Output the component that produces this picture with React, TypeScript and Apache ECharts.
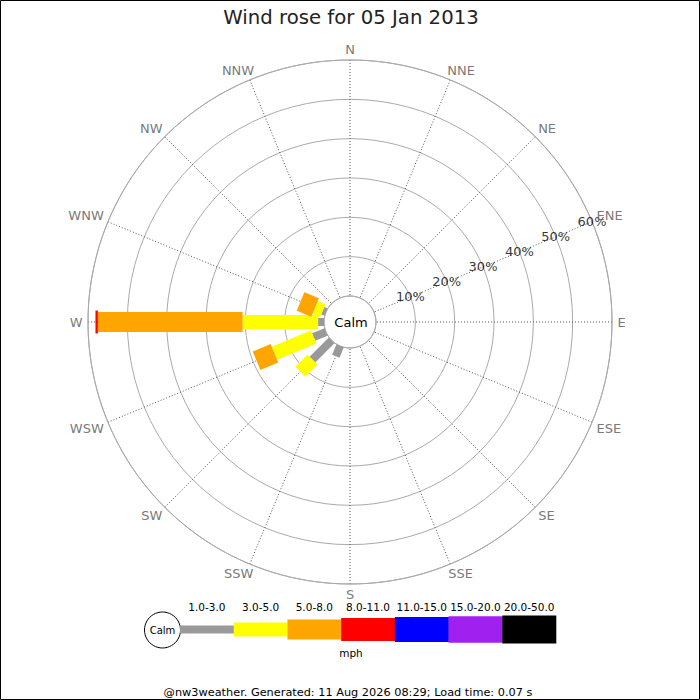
import React, { useEffect, useRef } from "react";
import * as echarts from "echarts";

// ---- data ----
const directions = ["N", "NNE", "NE", "ENE", "E", "ESE", "SE", "SSE", "S", "SSW", "SW", "WSW", "W", "WNW", "NW", "NNW"];
const speedBins = ["1.0-3.0", "3.0-5.0", "5.0-8.0", "8.0-11.0", "11.0-15.0", "15.0-20.0", "20.0-50.0"];
// percentage of time per direction (N..NNW) for each speed bin
const pct1to3 = [0, 0, 0, 0, 0, 0, 0, 0, 0, 2.8, 6.9, 3.4, 1.5, 0.9, 0, 0];
const pct3to5 = [0, 0, 0, 0, 0, 0, 0, 0, 0, 0, 4.4, 10.8, 19.2, 2.1, 0, 0];
const pct5to8 = [0, 0, 0, 0, 0, 0, 0, 0, 0, 0, 0, 4.9, 36.8, 4.0, 0, 0];
const pct8to11 = [0, 0, 0, 0, 0, 0, 0, 0, 0, 0, 0, 0, 0.6, 0, 0, 0];
const pct11to15 = [0, 0, 0, 0, 0, 0, 0, 0, 0, 0, 0, 0, 0, 0, 0, 0];
const pct15to20 = [0, 0, 0, 0, 0, 0, 0, 0, 0, 0, 0, 0, 0, 0, 0, 0];
const pct20to50 = [0, 0, 0, 0, 0, 0, 0, 0, 0, 0, 0, 0, 0, 0, 0, 0];
const radiusTicks = [10, 20, 30, 40, 50, 60];
const titleText = "Wind rose for 05 Jan 2013";
const unitText = "mph";
const footerText = "@nw3weather. Generated: 11 Aug 2026 08:29; Load time: 0.07 s";

// ---- styles ----
const binColors = ["#999999", "#ffff00", "#ffa500", "#ff0000", "#0000ff", "#a020f0", "#000000"];
const binWidths = [8, 14, 20, 23, 25, 26.5, 28];
const FONT = "DejaVu Sans";
const DIR_FONT = 13;
const DIR_GAP_X = 5.5;
const DIR_GAP_Y = 3.7;

function measure(text: string, size: number): number {
  const c = document.createElement("canvas").getContext("2d");
  if (!c) return text.length * size * 0.65;
  c.font = `${size}px "${FONT}"`;
  return c.measureText(text).width;
}

function sgn(v: number): number {
  return Math.abs(v) < 1e-6 ? 0 : v > 0 ? 1 : -1;
}

export default function App() {
  const ref = useRef<HTMLDivElement>(null);
  useEffect(() => {
    if (!ref.current) return;
    const chart = echarts.init(ref.current, undefined, { renderer: "svg" });
    const allBins = [pct1to3, pct3to5, pct5to8, pct8to11, pct11to15, pct15to20, pct20to50];
    const cum = directions.map(() => 0);
    const barSeries: any[] = allBins.map((vals, b) => {
      const data: number[][] = [];
      vals.forEach((v, i) => {
        if (v > 0) {
          data.push([cum[i], cum[i] + v, i * 22.5]);
          cum[i] += v;
        }
      });
      const w = binWidths[b];
      const color = binColors[b];
      return {
        type: "custom",
        name: speedBins[b],
        coordinateSystem: "polar",
        encode: { radius: [0, 1], angle: 2 },
        data,
        z: 5,
        renderItem: (params: any, api: any) => {
          const a = api.value(2);
          const p0 = api.coord([api.value(0), a]);
          const p1 = api.coord([api.value(1), a]);
          const dx = p1[0] - p0[0];
          const dy = p1[1] - p0[1];
          const len = Math.hypot(dx, dy) || 1;
          const nx = (-dy / len) * (w / 2);
          const ny = (dx / len) * (w / 2);
          return {
            type: "polygon",
            shape: {
              points: [
                [p0[0] + nx, p0[1] + ny],
                [p1[0] + nx, p1[1] + ny],
                [p1[0] - nx, p1[1] - ny],
                [p0[0] - nx, p0[1] - ny],
              ],
            },
            style: { fill: color, stroke: null },
          };
        },
      };
    });

    // direction labels: anchored on the outer ring, pushed outward to clear it
    const dirLabelData = directions.map((name, i) => {
      const th = (i * 22.5 * Math.PI) / 180;
      const sx = Math.sin(th);
      const sy = -Math.cos(th);
      const hw = measure(name, DIR_FONT) / 2;
      const hh = DIR_FONT / 2;
      const ox = sgn(sx) * (DIR_GAP_X + hw * Math.abs(sx));
      const oy = sgn(sy) * (DIR_GAP_Y + hh * Math.abs(sy));
      return {
        value: [60, i * 22.5],
        label: { offset: [ox, oy], formatter: name },
      };
    });

    // legend graphics
    const legX0 = 180;
    const segW = (556 - 180) / 7;
    const legCy = 629.5;
    const legendEls: any[] = [];
    speedBins.forEach((name, b) => {
      const h = binWidths[b];
      legendEls.push({
        type: "rect",
        shape: { x: legX0 + b * segW, y: legCy - h / 2, width: segW + 0.3, height: h },
        style: { fill: binColors[b] },
      });
      legendEls.push({
        type: "text",
        x: legX0 + b * segW + segW / 2,
        y: 607,
        style: { text: name, fontSize: 10.5, fontFamily: FONT, fill: "#000", align: "center", verticalAlign: "middle" },
      });
    });

    chart.setOption({
      animation: false,
      backgroundColor: "#fff",
      polar: { center: [350, 322], radius: [26, 262] },
      angleAxis: {
        type: "value",
        min: 0,
        max: 360,
        interval: 22.5,
        startAngle: 90,
        clockwise: true,
        axisLine: { show: true, lineStyle: { color: "#aaaaaa", width: 1 } },
        axisTick: { show: false },
        axisLabel: { show: false },
        splitLine: { show: true, lineStyle: { color: "#555555", width: 1, type: [1, 2] } },
      },
      radiusAxis: {
        type: "value",
        min: 0,
        max: 60,
        interval: 10,
        axisLine: { show: false },
        axisTick: { show: false },
        axisLabel: { show: false },
        splitLine: { show: true, lineStyle: { color: "#aaaaaa", width: 1 } },
      },
      series: [
        ...barSeries,
        {
          type: "scatter",
          coordinateSystem: "polar",
          symbolSize: 0,
          z: 10,
          silent: true,
          data: radiusTicks.map((t) => [t, 3 * 22.5]),
          label: {
            show: true,
            position: "inside",
            formatter: (p: any) => p.value[0] + "%",
            fontSize: 13,
            fontFamily: FONT,
            color: "#000",
          },
        },
        {
          type: "scatter",
          coordinateSystem: "polar",
          symbolSize: 0,
          z: 10,
          silent: true,
          data: dirLabelData,
          label: {
            show: true,
            position: "inside",
            fontSize: DIR_FONT,
            fontFamily: FONT,
            color: "#555555",
          },
        },
      ],
      graphic: [
        {
          type: "rect",
          shape: { x: 0.5, y: 0.5, width: 699, height: 699 },
          style: { fill: "none", stroke: "#000", lineWidth: 1 },
          z: 100,
        },
        {
          type: "text",
          x: 351,
          y: 17,
          style: { text: titleText, fontSize: 19.7, fontFamily: FONT, fill: "#222", align: "center", verticalAlign: "middle" },
        },
        {
          type: "text",
          x: 351,
          y: 322,
          z: 20,
          style: { text: "Calm", fontSize: 13, fontFamily: FONT, fill: "#000", align: "center", verticalAlign: "middle" },
        },
        {
          type: "circle",
          shape: { cx: 162.5, cy: 630, r: 18 },
          style: { fill: "#fff", stroke: "#000", lineWidth: 1 },
        },
        {
          type: "text",
          x: 162.5,
          y: 630,
          style: { text: "Calm", fontSize: 10, fontFamily: FONT, fill: "#000", align: "center", verticalAlign: "middle" },
        },
        ...legendEls,
        {
          type: "text",
          x: 351,
          y: 653,
          style: { text: unitText, fontSize: 10.5, fontFamily: FONT, fill: "#000", align: "center", verticalAlign: "middle" },
        },
        {
          type: "text",
          x: 348,
          y: 692,
          style: { text: footerText, fontSize: 11.3, fontFamily: FONT, fill: "#000", align: "center", verticalAlign: "middle" },
        },
      ],
    });
    return () => chart.dispose();
  }, []);
  return <div ref={ref} style={{ position: "fixed", left: 0, top: 0, width: 700, height: 700 }} />;
}
